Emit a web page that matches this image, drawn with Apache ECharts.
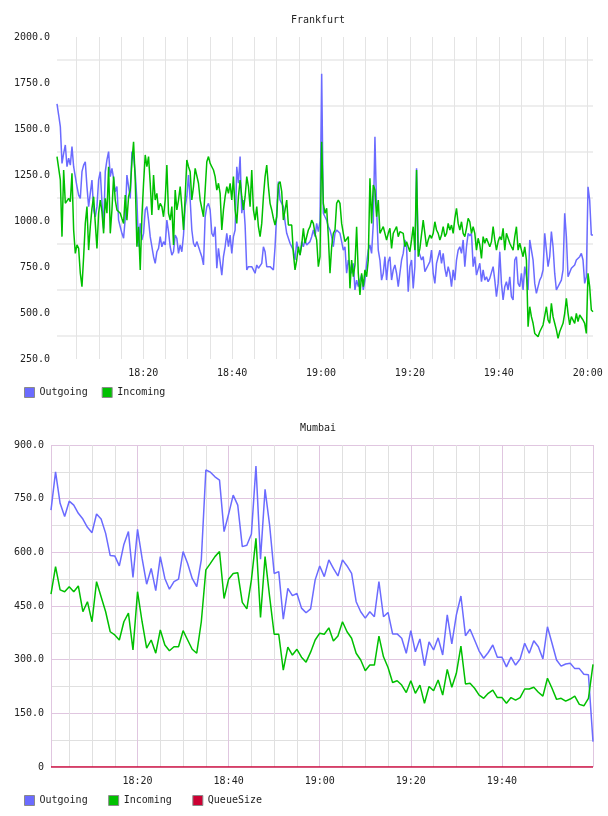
<!DOCTYPE html>
<html><head><meta charset="utf-8">
<script src="https://cdn.jsdelivr.net/npm/echarts@6/dist/echarts.min.js"></script>
<style>
html,body{margin:0;padding:0;background:#fff;width:608px;height:816px;overflow:hidden}
#c1{position:absolute;left:0;top:0;width:608px;height:408px}
#c2{position:absolute;left:0;top:408px;width:608px;height:408px}
</style>
</head><body><div id="c1"></div><div id="c2"></div>
<script>
const FONT = 'DejaVu Sans Mono';
const TEXT = '#222';

// ---------- Frankfurt (minutes after 18:00) ----------
const frankfurtStartMinute = 0.6;      // 18:00:36
const frankfurtStepMinutes = 0.3745;   // ~22.5 s sampling
const frankfurtOutgoing = [
1636,1576,1513,1313,1368,1413,1295,1341,1304,1404,
1295,1241,1187,1141,1123,1268,1304,1322,1187,1078,
1069,1223,1060,1023,1078,1223,1268,1105,960,1268,
1332,1377,1241,1286,1232,1159,1187,1005,969,933,
906,1014,1250,1187,1123,1377,1350,1259,1114,860,
987,897,933,1060,1078,1005,915,924,806,770,
833,851,915,860,888,870,1005,942,860,815,
833,924,906,824,870,833,924,1078,1132,1250,
1114,951,879,860,888,879,833,806,761,1023,
1078,1096,1060,933,915,969,743,851,860,706,
806,860,933,860,924,824,915,951,1295,1205,
1350,1042,1114,978,734,752,761,752,734,716,
761,743,752,770,860,833,752,761,752,743,
734,860,1042,1214,1114,1096,1078,996,933,906,
879,860,842,788,888,842,815,888,860,897,
870,860,888,915,951,915,987,942,1000,1800,
1042,1023,1005,969,951,915,860,933,951,942,
933,888,842,860,716,788,752,716,770,625,
679,643,679,706,625,679,770,842,870,824,
987,1458,1060,842,788,679,716,806,679,779,
806,679,734,761,716,643,716,788,824,897,
860,616,752,788,634,752,1286,842,842,788,
806,725,716,761,779,842,716,661,770,806,
842,770,824,743,697,752,716,643,734,679,
788,842,860,824,897,752,860,933,920,933,
752,806,706,697,770,670,734,679,697,670,
688,697,752,679,589,661,833,661,571,643,
670,625,697,589,571,788,806,661,643,715,
625,752,697,625,897,888,788,661,607,643,
679,697,734,933,924,752,806,942,860,715,
625,625,661,679,734,1042,915,697,697,743,
752,761,788,797,806,824,788,661,697,1186,
1114,924,924
];
const frankfurtIncoming = [
1350,1341,1223,915,1277,1096,1087,1123,1105,1259,
951,824,870,851,716,643,806,987,1078,842,
969,1069,1132,987,851,1042,1114,1051,933,1123,
1042,1295,933,1060,1241,1114,1060,1060,1042,1014,
987,1141,1005,1132,1168,1322,1431,1223,860,969,
734,1023,1205,1359,1295,1350,1205,1033,1250,1114,
1150,1060,1096,1078,1023,1114,1304,1042,1005,1078,
870,1168,1060,1114,1187,1078,951,1132,1332,1295,
1268,1114,1187,1286,1277,1205,1114,1123,1023,1168,
1322,1350,1313,1295,1277,1241,1168,1205,1150,951,
1060,1132,1187,1150,1205,1114,1241,1060,987,1132,
1223,1132,1060,1132,1241,1187,1078,1277,1060,1005,
1078,969,915,987,1132,1241,1304,1187,1096,1060,
1014,978,1023,1200,1214,1159,1005,996,1114,978,
969,978,824,734,788,860,815,870,960,879,
888,951,969,1005,987,933,897,752,806,1431,
1096,1042,1069,915,716,860,933,951,1096,1114,
1096,987,933,888,879,915,634,788,697,761,
969,716,598,716,643,734,697,788,1232,987,
1196,1168,1024,1114,933,951,969,933,897,933,
960,851,933,951,969,915,942,933,933,860,
888,860,833,897,969,842,1277,806,851,860,
1005,933,860,897,924,906,933,996,951,933,
897,924,969,915,933,987,951,978,933,1014,
1069,987,951,996,933,915,960,1014,996,933,
969,933,842,906,870,797,915,879,906,897,
860,888,969,897,842,888,915,897,960,842,
933,906,879,860,842,915,969,842,879,842,
806,860,788,425,534,480,444,389,389,371,
398,389,435,444,534,462,444,552,480,444,
408,362,398,389,444,498,580,498,435,480,
489,444,498,453,489,480,462,444,389,716,
643,516,507
];
const frankfurtYTickValues = [250,500,750,1000,1250,1500,1750,2000];
const frankfurtYTickLabels = ['250.0','500.0','750.0','1000.0','1250.0','1500.0','1750.0','2000.0'];
const frankfurtXTickMinutes = [20,40,60,80,100,120];
const frankfurtXTickLabels = ['18:20','18:40','19:00','19:20','19:40','20:00'];

// ---------- Mumbai (minutes after 18:00) ----------
const mumbaiStartMinute = 1;   // 18:01
const mumbaiStepMinutes = 1;
const mumbaiOutgoing = [
718,825,737,700,743,732,709,693,670,655,
707,693,653,591,590,562,622,658,530,664,
583,511,555,493,588,527,497,518,525,602,
569,527,504,579,830,824,811,802,658,707,
760,732,616,620,651,841,581,776,676,541,
546,413,499,479,485,444,431,442,523,562,
532,579,555,534,579,562,541,462,434,416,
434,420,518,420,432,372,372,360,318,381,
322,358,283,350,327,361,313,425,344,425,
478,367,385,355,324,304,320,341,307,307,
280,307,285,302,346,318,353,336,302,392,
346,299,282,288,290,275,275,259,258,71
];
const mumbaiIncoming = [
483,560,495,490,504,490,506,434,462,406,
518,476,434,378,369,355,406,430,327,490,
406,332,355,318,383,341,325,336,336,381,
355,329,318,406,551,569,588,602,471,525,
541,543,460,442,523,639,418,588,476,371,
371,271,335,313,329,307,293,321,355,374,
371,389,352,366,406,378,360,318,299,269,
285,285,366,308,278,236,241,229,208,241,
206,229,178,225,213,243,201,273,223,262,
338,232,234,220,201,192,206,215,194,194,
178,194,187,194,218,218,223,209,198,248,
220,189,192,184,190,198,175,171,192,287
];
const mumbaiQueueSize = [
0,0,0,0,0,0,0,0,0,0, 0,0,0,0,0,0,0,0,0,0,
0,0,0,0,0,0,0,0,0,0, 0,0,0,0,0,0,0,0,0,0,
0,0,0,0,0,0,0,0,0,0, 0,0,0,0,0,0,0,0,0,0,
0,0,0,0,0,0,0,0,0,0, 0,0,0,0,0,0,0,0,0,0,
0,0,0,0,0,0,0,0,0,0, 0,0,0,0,0,0,0,0,0,0,
0,0,0,0,0,0,0,0,0,0, 0,0,0,0,0,0,0,0,0,0
];
const mumbaiYTickValues = [0,150,300,450,600,750,900];
const mumbaiYTickLabels = ['0','150.0','300.0','450.0','600.0','750.0','900.0'];
const mumbaiXTickMinutes = [20,40,60,80,100];
const mumbaiXTickLabels = ['18:20','18:40','19:00','19:20','19:40'];

const COLORS = {Outgoing: '#6b6bff', Incoming: '#00c000', QueueSize: '#cc0033'};

function toPairs(values, start, step) {
  return values.map((v, i) => [start + i * step, v]);
}
function lookupFormatter(vals, labels) {
  return function (v) {
    for (let i = 0; i < vals.length; i++) if (Math.abs(vals[i] - v) < 1e-6) return labels[i];
    return '';
  };
}
const labelStyle = {fontFamily: FONT, fontSize: 10, color: TEXT};
function titleOpt(text) {
  return {text: text, left: 318, top: 15, textAlign: 'center', padding: 0,
    textStyle: {fontFamily: FONT, fontSize: 10, fontWeight: 'normal', color: TEXT}};
}
function legendOpt(names, gap) {
  return {left: 24, top: 387, padding: 0, itemWidth: 10, itemHeight: 10, itemGap: gap, icon: 'rect',
    selectedMode: false, data: names,
    itemStyle: {borderColor: '#8a8a8a', borderWidth: 1},
    textStyle: {fontFamily: FONT, fontSize: 10, color: TEXT}};
}
function lineSeries(name, data) {
  return {type: 'line', name: name, data: data,
    showSymbol: false, symbol: 'none', silent: true, animation: false,
    lineStyle: {color: COLORS[name], width: 1.5}, itemStyle: {color: COLORS[name]},
    emphasis: {disabled: true}};
}

// ---------- top chart ----------
const fN = frankfurtOutgoing.length;
const fEnd = frankfurtStartMinute + (fN - 1) * frankfurtStepMinutes;
const chartTop = echarts.init(document.getElementById('c1'), null, {renderer: 'canvas'});
chartTop.setOption({
  animation: false,
  title: titleOpt('Frankfurt'),
  legend: legendOpt(['Outgoing', 'Incoming'], 14),
  grid: {left: 57, right: 15, top: 37, height: 322, containLabel: false, outerBoundsMode: 'none'},
  xAxis: {type: 'value', min: frankfurtStartMinute, max: fEnd, minInterval: 5, maxInterval: 5,
    axisLine: {show: false}, axisTick: {show: false},
    axisLabel: Object.assign({margin: 9, formatter: lookupFormatter(frankfurtXTickMinutes, frankfurtXTickLabels)}, labelStyle),
    splitLine: {show: true, showMinLine: false, showMaxLine: false, lineStyle: {color: '#e4e4e4', width: 1}}},
  yAxis: [
    {type: 'value', min: 250, max: 2000, interval: 250,
      axisLine: {show: false}, axisTick: {show: false},
      axisLabel: Object.assign({margin: 7, formatter: lookupFormatter(frankfurtYTickValues, frankfurtYTickLabels)}, labelStyle),
      splitLine: {show: false}},
    {type: 'value', min: 125, max: 1875, minInterval: 250, maxInterval: 250, position: 'left',
      axisLine: {show: false}, axisTick: {show: false}, axisLabel: {show: false},
      splitLine: {show: true, showMinLine: false, showMaxLine: false, lineStyle: {color: '#eeeeee', width: 2}}}
  ],
  series: [
    lineSeries('Outgoing', toPairs(frankfurtOutgoing, frankfurtStartMinute, frankfurtStepMinutes)),
    lineSeries('Incoming', toPairs(frankfurtIncoming, frankfurtStartMinute, frankfurtStepMinutes))
  ]
});

// ---------- bottom chart ----------
const mN = mumbaiOutgoing.length;
const mEnd = mumbaiStartMinute + (mN - 1) * mumbaiStepMinutes;
const chartBottom = echarts.init(document.getElementById('c2'), null, {renderer: 'canvas'});
const PINK = '#e0c6e0', GRAY = '#e0e0e0';
chartBottom.setOption({
  animation: false,
  title: titleOpt('Mumbai'),
  legend: legendOpt(['Outgoing', 'Incoming', 'QueueSize'], 20.5),
  grid: {left: 51, right: 15, top: 37, height: 322, containLabel: false, outerBoundsMode: 'none'},
  xAxis: {type: 'value', min: mumbaiStartMinute, max: mEnd, minInterval: 5, maxInterval: 5,
    axisLine: {show: false}, axisTick: {show: false},
    axisLabel: Object.assign({margin: 9, formatter: lookupFormatter(mumbaiXTickMinutes, mumbaiXTickLabels)}, labelStyle),
    splitLine: {show: true, lineStyle: {color: [PINK, GRAY, GRAY, GRAY], width: 1}}},
  yAxis: {type: 'value', min: 0, max: 900, interval: 75,
    axisLine: {show: false}, axisTick: {show: false},
    axisLabel: Object.assign({margin: 7, formatter: lookupFormatter(mumbaiYTickValues, mumbaiYTickLabels)}, labelStyle),
    splitLine: {show: true, lineStyle: {color: [PINK, GRAY], width: 1}}},
  series: [
    lineSeries('Outgoing', toPairs(mumbaiOutgoing, mumbaiStartMinute, mumbaiStepMinutes)),
    lineSeries('Incoming', toPairs(mumbaiIncoming, mumbaiStartMinute, mumbaiStepMinutes)),
    lineSeries('QueueSize', toPairs(mumbaiQueueSize, mumbaiStartMinute, mumbaiStepMinutes))
  ]
});
</script>
</body></html>
